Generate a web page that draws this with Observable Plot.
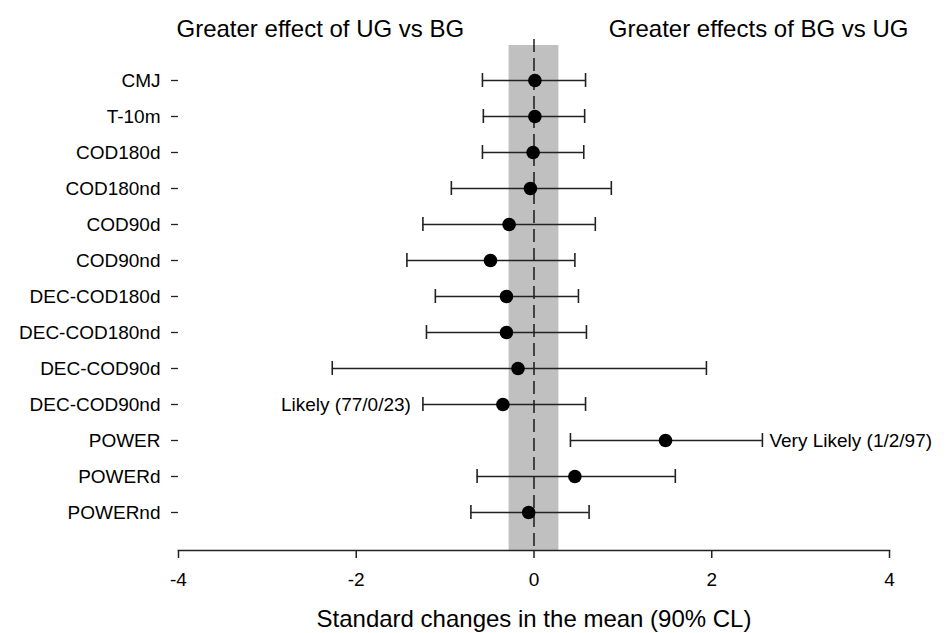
<!DOCTYPE html>
<html>
<head>
<meta charset="utf-8">
<script src="https://cdn.jsdelivr.net/npm/d3@7"></script>
<script src="https://cdn.jsdelivr.net/npm/@observablehq/plot@0.6"></script>
<style>
  html, body { margin: 0; padding: 0; background: #fff; }
  svg { font-family: "Liberation Sans", Arial, sans-serif; }
</style>
</head>
<body>
<div id="chart"></div>
<script>
const categories = ["CMJ","T-10m","COD180d","COD180nd","COD90d","COD90nd","DEC-COD180d","DEC-COD180nd","DEC-COD90d","DEC-COD90nd","POWER","POWERd","POWERnd"];
const means = [0.01, 0.01, -0.01, -0.04, -0.28, -0.49, -0.31, -0.31, -0.18, -0.35, 1.48, 0.46, -0.06];
const lowers = [-0.58, -0.57, -0.58, -0.93, -1.25, -1.43, -1.11, -1.21, -2.27, -1.25, 0.41, -0.64, -0.71];
const uppers = [0.58, 0.57, 0.56, 0.87, 0.69, 0.46, 0.50, 0.59, 1.94, 0.58, 2.57, 1.59, 0.62];
const trivialBand = [-0.28, 0.28];
const xTicks = [-4, -2, 0, 2, 4];
const xTitle = "Standard changes in the mean (90% CL)";
const leftHeader = {x: -4, text: "Greater effect of UG vs BG"};
const rightHeader = {x: 4, text: "Greater effects of BG vs UG"};
const leftNote = {cat: "DEC-COD90nd", text: "Likely (77/0/23)"};
const rightNote = {cat: "POWER", text: "Very Likely (1/2/97)"};

const rows = categories.map((c, i) => ({cat: c, mean: means[i], lo: lowers[i], hi: uppers[i]}));
const leftNoteRow = {...leftNote, x: rows.find(d => d.cat === leftNote.cat).lo};
const rightNoteRow = {...rightNote, x: rows.find(d => d.cat === rightNote.cat).hi};

const ink = "#222";
const font = "Liberation Sans, Arial, sans-serif";
const chart = Plot.plot({
  width: 951,
  height: 633,
  marginLeft: 178,
  marginRight: 62,
  marginTop: 45,
  marginBottom: 83,
  style: {fontFamily: font, fontSize: "19px", color: "#000", background: "#fff"},
  x: {domain: [-4, 4], ticks: xTicks},
  y: {type: "band", domain: categories, paddingInner: 0, paddingOuter: 0.408, insetBottom: 3},
  marks: [
    Plot.rect([trivialBand], {x1: d => d[0], x2: d => d[1], fill: "#c0c0c0"}),
    Plot.ruleX([0], {stroke: "#000", strokeWidth: 1.3, strokeDasharray: "13,6", insetTop: -6}),
    Plot.frame({anchor: "bottom", stroke: ink, strokeWidth: 1.5}),
    Plot.axisX({ticks: xTicks, tickFormat: d => String(d), tickSize: 8, tickPadding: 14, fontSize: 19,
      stroke: ink, strokeWidth: 1.5, label: null}),
    Plot.text([xTitle], {text: d => d, frameAnchor: "bottom", dy: 76, lineAnchor: "bottom", fontSize: 24, fill: "#000"}),
    Plot.axisY({tickSize: 7, tickPadding: 11, fontSize: 19, stroke: ink, strokeWidth: 1.3, label: null}),
    Plot.ruleY(rows, {y: "cat", x1: "lo", x2: "hi", stroke: ink, strokeWidth: 1.6}),
    Plot.tickX(rows, {y: "cat", x: "lo", stroke: ink, strokeWidth: 1.6, insetTop: 11, insetBottom: 11}),
    Plot.tickX(rows, {y: "cat", x: "hi", stroke: ink, strokeWidth: 1.6, insetTop: 11, insetBottom: 11}),
    Plot.dot(rows, {y: "cat", x: "mean", r: 6.8, fill: "#000", stroke: null}),
    Plot.text([leftNoteRow], {y: "cat", x: "x", text: "text", fill: "#000", fontSize: 19, textAnchor: "end", dx: -12}),
    Plot.text([rightNoteRow], {y: "cat", x: "x", text: "text", fill: "#000", fontSize: 19, textAnchor: "start", dx: 7}),
    Plot.text([leftHeader], {x: "x", text: "text", frameAnchor: "top", lineAnchor: "bottom", dy: -9, dx: -2, textAnchor: "start", fontSize: 24, fill: "#000"}),
    Plot.text([rightHeader], {x: "x", text: "text", frameAnchor: "top", lineAnchor: "bottom", dy: -9, dx: 19, textAnchor: "end", fontSize: 24, fill: "#000"})
  ]
});
document.getElementById("chart").append(chart);
</script>
</body>
</html>
